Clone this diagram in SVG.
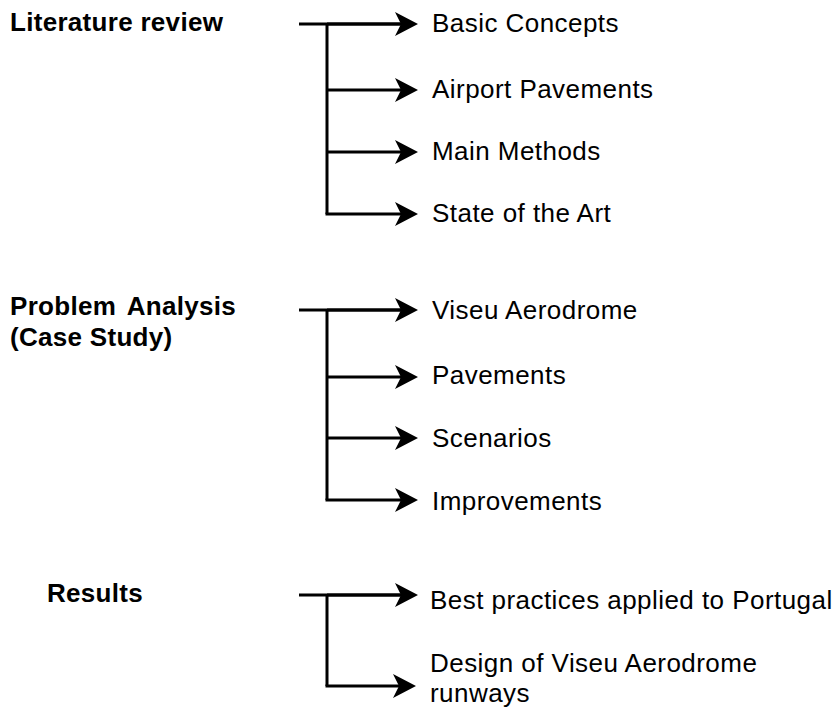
<svg xmlns="http://www.w3.org/2000/svg" width="833" height="708" viewBox="0 0 833 708">
  <style>
    .head { font-family: "Liberation Sans", Arial, sans-serif; font-size: 26px; font-weight: bold; letter-spacing: 0.3px; fill: #000; }
    .wide { word-spacing: 4px; }
    .item { font-family: "Liberation Sans", Arial, sans-serif; font-size: 26px; letter-spacing: 0.45px; fill: #000; }
    .wire { fill: none; stroke: #000; stroke-width: 3; }
    .arrow { stroke: #000; stroke-width: 3; marker-end: url(#barb); }
  </style>
  <defs>
    <marker id="barb" markerUnits="userSpaceOnUse" viewBox="0 0 23 24" markerWidth="23" markerHeight="24" refX="6" refY="12" orient="auto" overflow="visible">
      <path d="M0,0 L23,12 L0,24 L6,12 Z" fill="#000"/>
    </marker>
  </defs>
  <rect width="833" height="708" fill="#fff"/>

  <!-- section headings -->
  <g id="literature-review">
    <text class="head" x="10" y="31">Literature review</text>
  </g>
  <g id="problem-analysis">
    <text class="head wide" x="10" y="315">Problem Analysis</text>
    <text class="head" x="10" y="346">(Case Study)</text>
  </g>
  <g id="results">
    <text class="head" x="47" y="602">Results</text>
  </g>

  <!-- sub-topics -->
  <g id="basic-concepts"><text class="item" x="432" y="32">Basic Concepts</text></g>
  <g id="airport-pavements"><text class="item" x="432" y="98">Airport Pavements</text></g>
  <g id="main-methods"><text class="item" x="432" y="160">Main Methods</text></g>
  <g id="state-of-the-art"><text class="item" x="432" y="222">State of the Art</text></g>

  <g id="viseu-aerodrome"><text class="item" x="432" y="319">Viseu Aerodrome</text></g>
  <g id="pavements"><text class="item" x="432" y="384">Pavements</text></g>
  <g id="scenarios"><text class="item" x="432" y="447">Scenarios</text></g>
  <g id="improvements"><text class="item" x="432" y="510">Improvements</text></g>

  <g id="best-practices"><text class="item" x="430" y="609">Best practices applied to Portugal</text></g>
  <g id="runway-design">
    <text class="item" x="430" y="672">Design of Viseu Aerodrome</text>
    <text class="item" x="430" y="702">runways</text>
  </g>

  <!-- connectors -->
  <g id="connectors">
    <!-- literature review fan-out -->
    <path class="wire" d="M299,24 H401 M327,24 V214"/>
    <line class="arrow" x1="327" y1="24" x2="401" y2="24"/>
    <line class="arrow" x1="327" y1="90" x2="401" y2="90"/>
    <line class="arrow" x1="327" y1="152" x2="401" y2="152"/>
    <line class="arrow" x1="325.5" y1="214" x2="401" y2="214"/>

    <!-- problem analysis fan-out -->
    <path class="wire" d="M299,310 H401 M327,310 V500"/>
    <line class="arrow" x1="327" y1="310" x2="401" y2="310"/>
    <line class="arrow" x1="327" y1="377" x2="401" y2="377"/>
    <line class="arrow" x1="327" y1="438" x2="401" y2="438"/>
    <line class="arrow" x1="325.5" y1="500" x2="401" y2="500"/>

    <!-- results fan-out -->
    <path class="wire" d="M299,595 H401 M327,595 V686"/>
    <line class="arrow" x1="327" y1="595" x2="401" y2="595"/>
    <line class="arrow" x1="325.5" y1="686" x2="399" y2="686"/>
  </g>
</svg>
